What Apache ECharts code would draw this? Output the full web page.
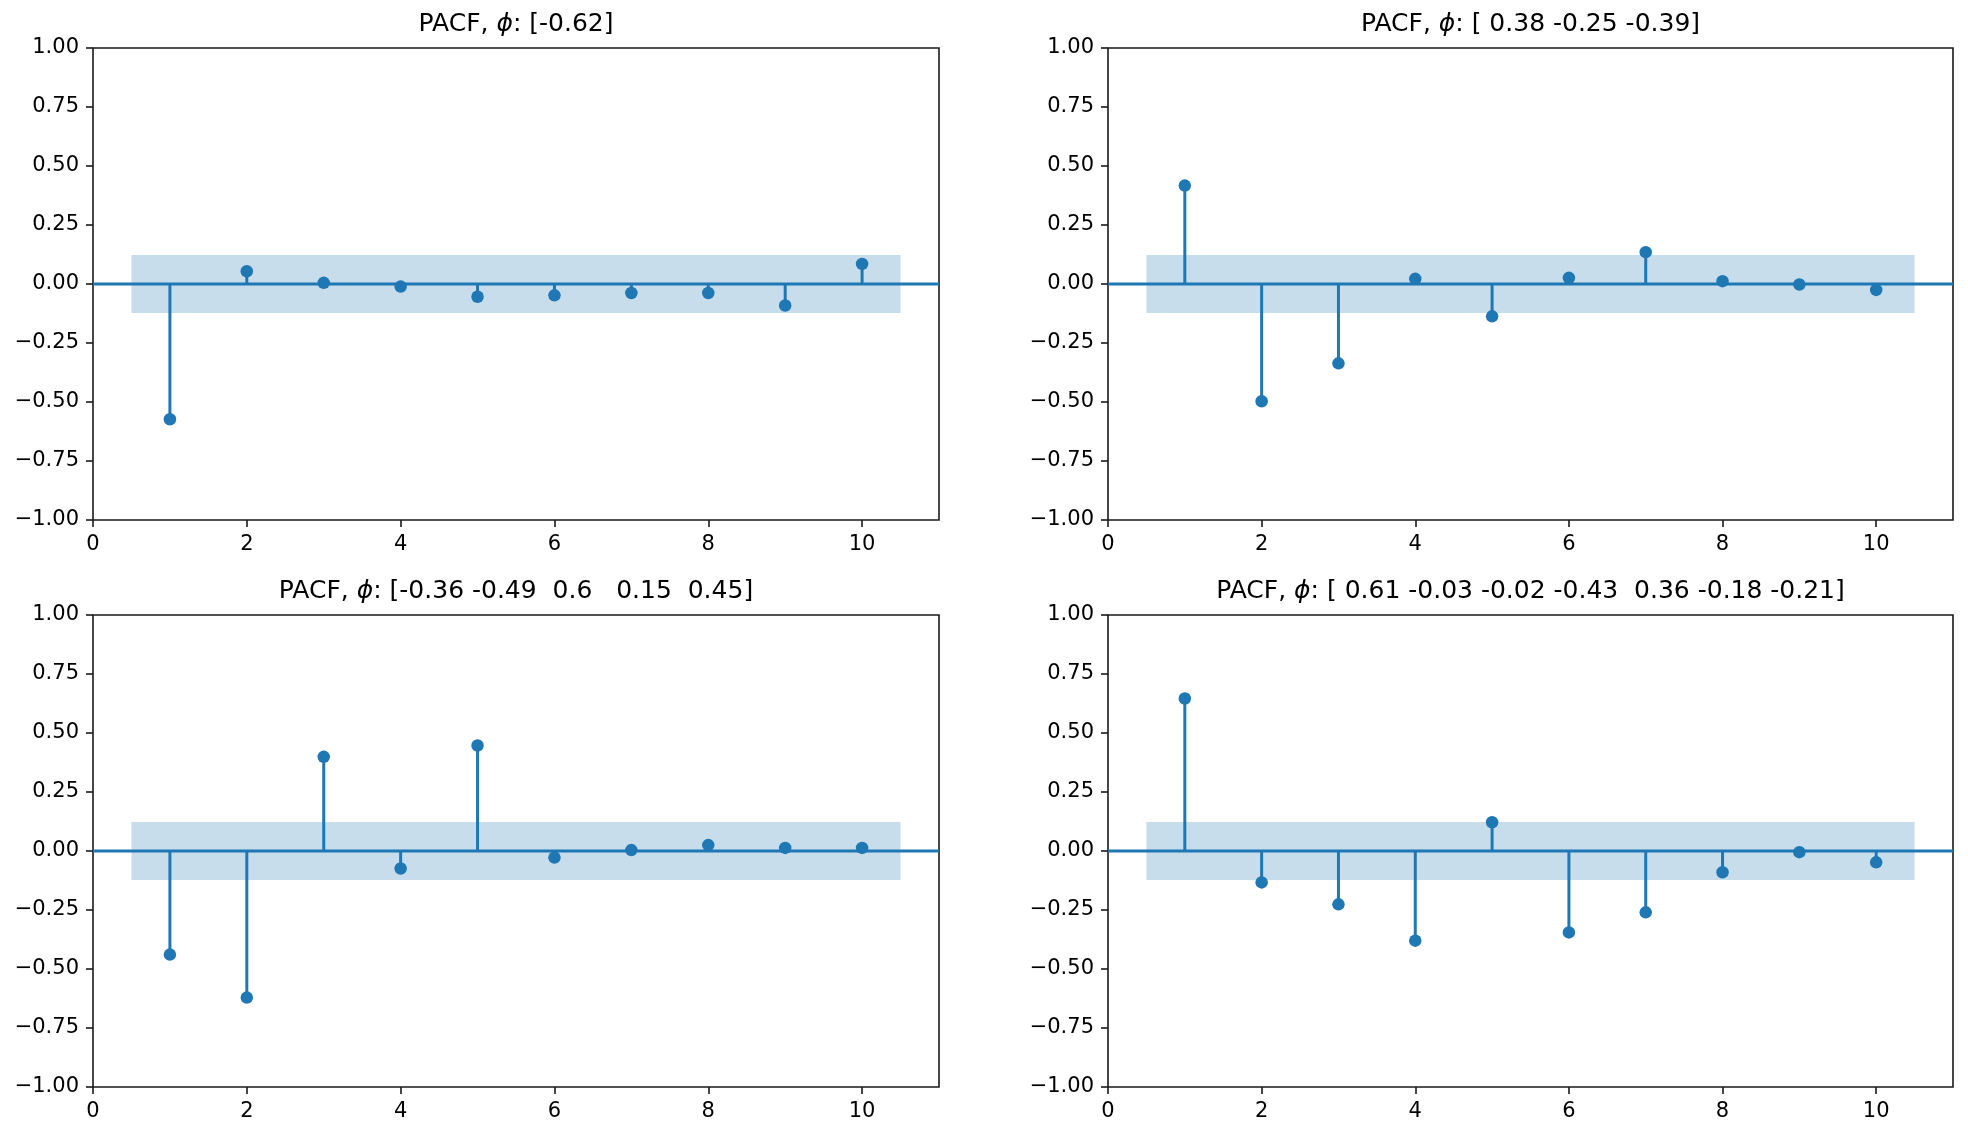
<!DOCTYPE html>
<html>
<head>
<meta charset="utf-8">
<title>PACF</title>
<script src="https://cdn.jsdelivr.net/npm/echarts@6/dist/echarts.min.js"></script>
<style>
  html, body { margin: 0; padding: 0; background: #fff; }
  #chart { width: 1968px; height: 1137px; }
</style>
</head>
<body>
<div id="chart"></div>
<script>
const lags = [1, 2, 3, 4, 5, 6, 7, 8, 9, 10];

const pacfA = [-0.573, 0.054, 0.005, -0.011, -0.054, -0.048, -0.038, -0.038, -0.091, 0.085];
const pacfB = [0.417, -0.497, -0.336, 0.022, -0.137, 0.026, 0.135, 0.012, -0.002, -0.025];
const pacfC = [-0.439, -0.621, 0.399, -0.074, 0.447, -0.028, 0.004, 0.025, 0.013, 0.013];
const pacfD = [0.646, -0.133, -0.226, -0.380, 0.122, -0.345, -0.260, -0.090, -0.005, -0.048];

const phiA = '[-0.62]';
const phiB = '[ 0.38 -0.25 -0.39]';
const phiC = '[-0.36 -0.49  0.6   0.15  0.45]';
const phiD = '[ 0.61 -0.03 -0.02 -0.43  0.36 -0.18 -0.21]';

const confInt = 0.1225;
const bandX = [0.5, 10.5];
const xTicks = [0, 2, 4, 6, 8, 10];
const yTicks = [-1, -0.75, -0.5, -0.25, 0, 0.25, 0.5, 0.75, 1];

const blue = '#1f77b4';
const font = 'DejaVu Sans';
const tickSize = 21;
const titleSize = 25;

// panel boxes in px: left, top, width, height
const panels = [
  { data: pacfA, phi: phiA, left: 93, top: 48, width: 846, height: 472 },
  { data: pacfB, phi: phiB, left: 1108, top: 48, width: 845, height: 472 },
  { data: pacfC, phi: phiC, left: 93, top: 615, width: 846, height: 472 },
  { data: pacfD, phi: phiD, left: 1108, top: 615, width: 845, height: 472 }
];

const grid = [], xAxis = [], yAxis = [], series = [], graphic = [];

panels.forEach((p, i) => {
  grid.push({
    left: p.left, top: p.top, width: p.width, height: p.height,
    show: true, borderColor: '#1a1a1a', borderWidth: 1.6, backgroundColor: 'transparent'
  });
  xAxis.push({
    type: 'value', gridIndex: i, min: 0, max: 11, interval: 2,
    splitLine: { show: false },
    axisLine: { show: false, onZero: false },
    axisTick: { show: true, length: 7, lineStyle: { color: '#1a1a1a', width: 1.6 }, customValues: xTicks },
    axisLabel: { margin: 14, color: '#000', fontFamily: font, fontSize: tickSize, customValues: xTicks }
  });
  yAxis.push({
    type: 'value', gridIndex: i, min: -1, max: 1, interval: 0.25,
    splitLine: { show: false },
    axisLine: { show: false, onZero: false },
    axisTick: { show: true, length: 7, lineStyle: { color: '#1a1a1a', width: 1.6 }, customValues: yTicks },
    axisLabel: {
      margin: 14, color: '#000', fontFamily: font, fontSize: tickSize, customValues: yTicks,
      formatter: v => v.toFixed(2).replace('-', '\u2212')
    }
  });

  // zero line across the full axis, with the confidence band behind it
  series.push({
    type: 'line', xAxisIndex: i, yAxisIndex: i,
    data: [[0, 0], [11, 0]],
    symbol: 'none', silent: true, z: 3,
    lineStyle: { color: blue, width: 3 },
    markArea: {
      silent: true,
      itemStyle: { color: 'rgba(31,119,180,0.25)' },
      data: [[{ coord: [bandX[0], -confInt] }, { coord: [bandX[1], confInt] }]]
    }
  });

  // stems
  series.push({
    type: 'custom', xAxisIndex: i, yAxisIndex: i, z: 4, silent: true,
    data: lags.map((l, k) => [l, p.data[k]]),
    renderItem: (params, api) => {
      const a = api.coord([api.value(0), 0]);
      const b = api.coord([api.value(0), api.value(1)]);
      return {
        type: 'line',
        shape: { x1: a[0], y1: a[1], x2: b[0], y2: b[1] },
        style: { stroke: blue, lineWidth: 3 }
      };
    }
  });

  // markers
  series.push({
    type: 'scatter', xAxisIndex: i, yAxisIndex: i, z: 5, silent: true,
    data: lags.map((l, k) => [l, p.data[k]]),
    symbolSize: 12.5,
    itemStyle: { color: blue, opacity: 1 }
  });

  graphic.push({
    type: 'text',
    x: p.left + p.width / 2,
    y: p.top - 11,
    style: {
      text: '{n|PACF, }{it|\u03d5}{n|: ' + p.phi + '}',
      align: 'center', verticalAlign: 'bottom',
      rich: {
        n: { fontFamily: font, fontSize: titleSize, fill: '#000' },
        it: { fontFamily: font, fontSize: titleSize, fontStyle: 'italic', fill: '#000' }
      }
    }
  });
});

const chart = echarts.init(document.getElementById('chart'), null, { renderer: 'canvas' });
chart.setOption({
  animation: false,
  backgroundColor: '#fff',
  grid, xAxis, yAxis, series, graphic
});
</script>
</body>
</html>
